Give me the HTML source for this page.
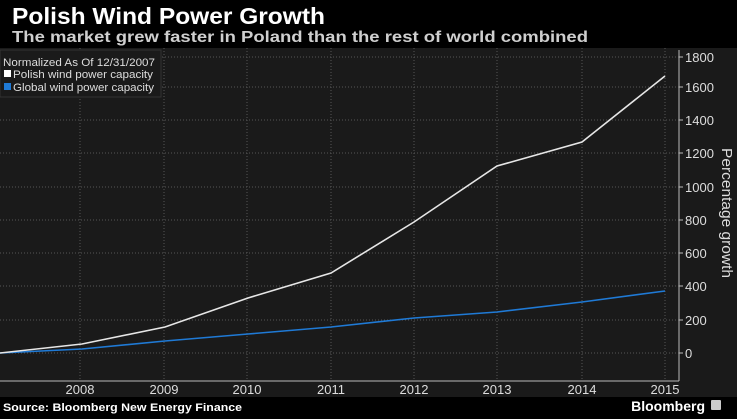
<!DOCTYPE html>
<html><head><meta charset="utf-8"><style>
html,body{margin:0;padding:0;background:#000;}
body{width:737px;height:414px;overflow:hidden;font-family:"Liberation Sans",sans-serif;}
</style></head><body>
<svg width="737" height="414" xmlns="http://www.w3.org/2000/svg" font-family="Liberation Sans, sans-serif">
<rect width="737" height="414" fill="#000"/>
<rect x="0" y="48" width="737" height="349" fill="#1a1a1a"/>
<text x="12" y="24" fill="#fff" font-size="23" font-weight="bold" textLength="313" lengthAdjust="spacingAndGlyphs">Polish Wind Power Growth</text>
<text x="12" y="42" fill="#cfcfcf" font-size="16" font-weight="bold" textLength="576" lengthAdjust="spacingAndGlyphs">The market grew faster in Poland than the rest of world combined</text>
<g stroke="#555" stroke-dasharray="1,2" stroke-width="1">
<line x1="0" y1="57" x2="679" y2="57"/><line x1="0" y1="87" x2="679" y2="87"/><line x1="0" y1="120" x2="679" y2="120"/>
<line x1="0" y1="153" x2="679" y2="153"/><line x1="0" y1="187" x2="679" y2="187"/><line x1="0" y1="220" x2="679" y2="220"/>
<line x1="0" y1="253" x2="679" y2="253"/><line x1="0" y1="286" x2="679" y2="286"/><line x1="0" y1="320" x2="679" y2="320"/>
<line x1="0" y1="353" x2="679" y2="353"/>
<line x1="80" y1="48" x2="80" y2="381"/><line x1="164" y1="48" x2="164" y2="381"/><line x1="247" y1="48" x2="247" y2="381"/>
<line x1="331" y1="48" x2="331" y2="381"/><line x1="414" y1="48" x2="414" y2="381"/><line x1="497" y1="48" x2="497" y2="381"/>
<line x1="582" y1="48" x2="582" y2="381"/><line x1="665" y1="48" x2="665" y2="381"/>
</g>
<line x1="0" y1="381" x2="679" y2="381" stroke="#bbb" stroke-width="1"/>
<line x1="679" y1="50" x2="679" y2="381" stroke="#bbb" stroke-width="1"/>
<g stroke="#bbb"><line x1="679" y1="57" x2="683" y2="57"/><line x1="679" y1="87" x2="683" y2="87"/><line x1="679" y1="120" x2="683" y2="120"/><line x1="679" y1="153" x2="683" y2="153"/><line x1="679" y1="187" x2="683" y2="187"/><line x1="679" y1="220" x2="683" y2="220"/><line x1="679" y1="253" x2="683" y2="253"/><line x1="679" y1="286" x2="683" y2="286"/><line x1="679" y1="320" x2="683" y2="320"/><line x1="679" y1="353" x2="683" y2="353"/></g>
<g fill="#ddd" font-size="13">
<text x="685" y="62">1800</text><text x="685" y="92">1600</text><text x="685" y="125">1400</text><text x="685" y="158">1200</text><text x="685" y="192">1000</text><text x="685" y="225">800</text><text x="685" y="258">600</text><text x="685" y="291">400</text><text x="685" y="325">200</text><text x="685" y="358">0</text>
</g>
<text transform="translate(722,148) rotate(90)" fill="#ddd" font-size="15" textLength="130" lengthAdjust="spacingAndGlyphs">Percentage growth</text>
<g fill="#ddd" font-size="13" text-anchor="middle">
<text x="80" y="394">2008</text><text x="164" y="394">2009</text><text x="247" y="394">2010</text><text x="331" y="394">2011</text><text x="414" y="394">2012</text><text x="497" y="394">2013</text><text x="582" y="394">2014</text><text x="665" y="394">2015</text>
</g>
<polyline fill="none" stroke="#1f7ad6" stroke-width="1.6" points="0,353 82,349 165,341 248,334 331,327 414,318 497,312 582,302 665,291"/>
<polyline fill="none" stroke="#e6e6e6" stroke-width="1.6" points="0,353 82,344 165,327 248,298 331,273 414,222 497,166 582,142 665,76"/>
<rect x="0" y="50" width="161" height="47" fill="#1a1a1a" stroke="#333"/>
<text x="3" y="66" fill="#ddd" font-size="11" textLength="152" lengthAdjust="spacingAndGlyphs">Normalized As Of 12/31/2007</text>
<rect x="4" y="70" width="7" height="7" fill="#fff"/>
<text x="13" y="78" fill="#ddd" font-size="11" textLength="140" lengthAdjust="spacingAndGlyphs">Polish wind power capacity</text>
<rect x="4" y="83" width="7" height="7" fill="#1f7ad6"/>
<text x="13" y="91" fill="#ddd" font-size="11" textLength="141" lengthAdjust="spacingAndGlyphs">Global wind power capacity</text>
<text x="3" y="411" fill="#fff" font-size="11" font-weight="bold" textLength="239" lengthAdjust="spacingAndGlyphs">Source: Bloomberg New Energy Finance</text>
<text x="705" y="411" fill="#fff" font-size="14" font-weight="bold" text-anchor="end">Bloomberg</text>
<rect x="711" y="400" width="10" height="10" fill="#ccc" rx="1"/>
</svg>
</body></html>
